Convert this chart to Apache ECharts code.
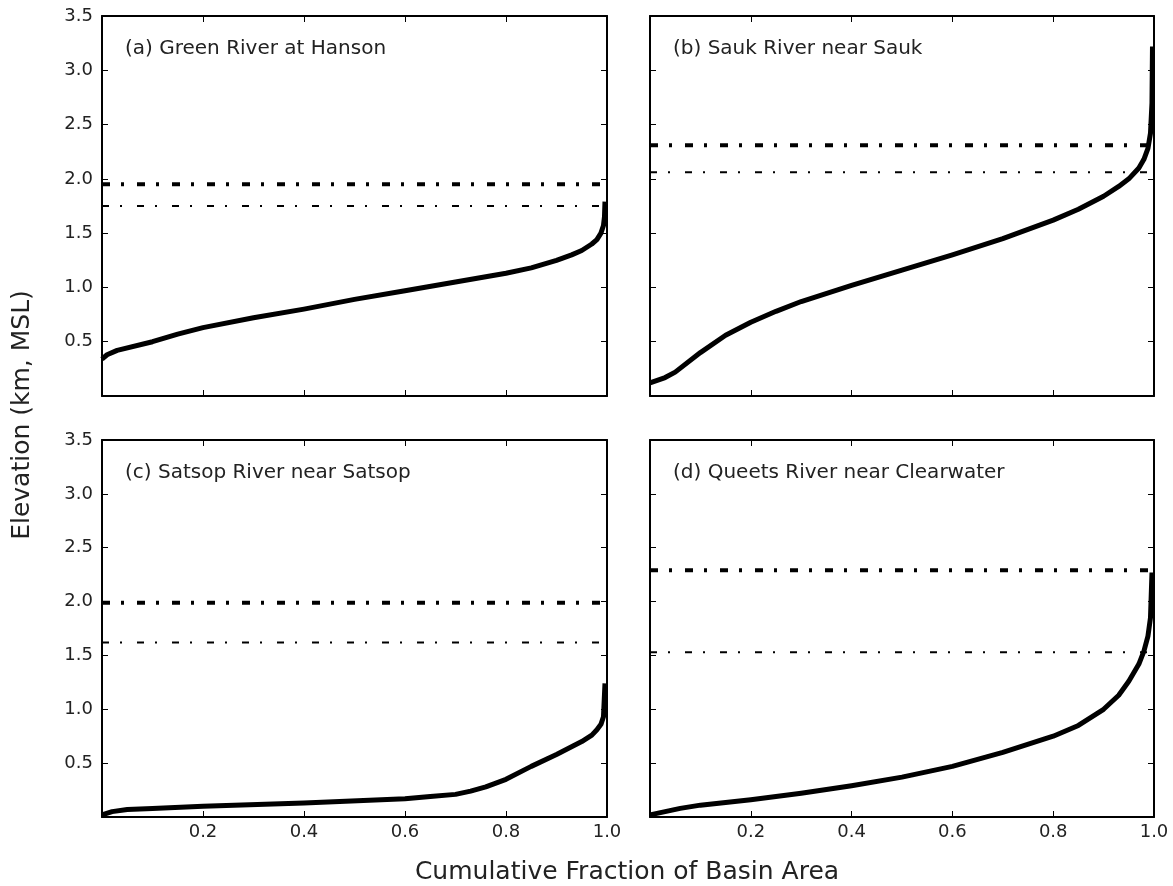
<!DOCTYPE html>
<html>
<head>
<meta charset="utf-8">
<script src="https://cdn.jsdelivr.net/npm/echarts@6/dist/echarts.min.js"></script>
<style>
  html, body { margin: 0; padding: 0; background: #fff; }
  #chart { width: 1173px; height: 886px; }
</style>
</head>
<body>
<div id="chart"></div>
<script>
// panel titles
const panelTitles = [
  "(a) Green River at Hanson",
  "(b) Sauk River near Sauk",
  "(c) Satsop River near Satsop",
  "(d) Queets River near Clearwater"
];

// hypsometric curves: cumulative fraction vs elevation (km)
const fracA = [0, 0.01, 0.03, 0.1, 0.15, 0.2, 0.3, 0.4, 0.5, 0.6, 0.7, 0.8, 0.85, 0.9, 0.93, 0.95, 0.97, 0.98, 0.988, 0.993, 0.995, 0.996];
const elevA = [0.34, 0.38, 0.42, 0.50, 0.57, 0.63, 0.72, 0.80, 0.89, 0.97, 1.05, 1.13, 1.18, 1.25, 1.30, 1.34, 1.40, 1.44, 1.50, 1.57, 1.65, 1.79];

const fracB = [0, 0.03, 0.05, 0.1, 0.15, 0.2, 0.25, 0.3, 0.4, 0.5, 0.6, 0.7, 0.8, 0.85, 0.9, 0.93, 0.95, 0.97, 0.98, 0.988, 0.993, 0.996, 0.997];
const elevB = [0.12, 0.17, 0.22, 0.40, 0.56, 0.68, 0.78, 0.87, 1.02, 1.16, 1.30, 1.45, 1.62, 1.72, 1.84, 1.93, 2.00, 2.10, 2.18, 2.28, 2.42, 2.70, 3.22];

const fracC = [0, 0.02, 0.05, 0.1, 0.2, 0.4, 0.6, 0.65, 0.7, 0.73, 0.76, 0.8, 0.85, 0.9, 0.95, 0.97, 0.98, 0.988, 0.993, 0.996];
const elevC = [0.02, 0.05, 0.07, 0.08, 0.10, 0.13, 0.17, 0.19, 0.21, 0.24, 0.28, 0.35, 0.47, 0.58, 0.70, 0.76, 0.81, 0.86, 0.93, 1.24];

const fracD = [0, 0.03, 0.06, 0.1, 0.2, 0.3, 0.4, 0.5, 0.6, 0.7, 0.8, 0.85, 0.9, 0.93, 0.95, 0.97, 0.98, 0.988, 0.993, 0.996];
const elevD = [0.02, 0.05, 0.08, 0.11, 0.16, 0.22, 0.29, 0.37, 0.47, 0.60, 0.75, 0.85, 1.00, 1.13, 1.26, 1.42, 1.54, 1.68, 1.85, 2.27];

// horizontal reference levels (km): thick and thin dash-dot lines
const thickLevels = [1.95, 2.31, 1.99, 2.29];
const thinLevels = [1.75, 2.06, 1.62, 1.53];

const curves = [[fracA, elevA], [fracB, elevB], [fracC, elevC], [fracD, elevD]];

const grids = [
  { left: 102, top: 16, width: 505, height: 380 },
  { left: 650, top: 16, width: 504, height: 380 },
  { left: 102, top: 440, width: 505, height: 377 },
  { left: 650, top: 440, width: 504, height: 377 }
];

const font = "DejaVu Sans";
const fmt = v => v.toFixed(1);

const xAxis = [], yAxis = [], series = [], graphic = [];

grids.forEach( ( g, i ) => {
  const isBottom = i >= 2, isLeft = i % 2 === 0;
  const tick = { show: true, inside: true, length: 6, lineStyle: { color: "#000", width: 1 } };
  // main axes
  xAxis.push( {
    gridIndex: i, type: "value", min: 0, max: 1, interval: 0.2, position: "bottom",
    axisLine: { show: true, lineStyle: { color: "#000", width: 2 } },
    axisTick: tick, splitLine: { show: false },
    axisLabel: { show: isBottom, showMinLabel: false, formatter: fmt, color: "#222", fontFamily: font, fontSize: 18, margin: 6 }
  } );
  yAxis.push( {
    gridIndex: i, type: "value", min: 0, max: 3.5, interval: 0.5, position: "left",
    axisLine: { show: true, lineStyle: { color: "#000", width: 2 } },
    axisTick: tick, splitLine: { show: false },
    axisLabel: { show: isLeft, showMinLabel: false, formatter: fmt, color: "#222", fontFamily: font, fontSize: 18, margin: 9 }
  } );
  // mirrored axes (top and right) for ticks
  xAxis.push( {
    gridIndex: i, type: "value", min: 0, max: 1, interval: 0.2, position: "top",
    axisLine: { show: true, onZero: false, lineStyle: { color: "#000", width: 2 } },
    axisTick: tick, splitLine: { show: false }, axisLabel: { show: false }
  } );
  yAxis.push( {
    gridIndex: i, type: "value", min: 0, max: 3.5, interval: 0.5, position: "right",
    axisLine: { show: true, onZero: false, lineStyle: { color: "#000", width: 2 } },
    axisTick: tick, splitLine: { show: false }, axisLabel: { show: false }
  } );

  const xi = i * 2, yi = i * 2;
  const [fx, ey] = curves[i];
  series.push( {
    type: "line", xAxisIndex: xi, yAxisIndex: yi, symbol: "none",
    smooth: false, clip: false,
    lineStyle: { color: "#000", width: 5, join: "round", cap: "butt" },
    data: fx.map( ( f, k ) => [f, ey[k]] ), z: 3
  } );
  series.push( {
    type: "line", xAxisIndex: xi, yAxisIndex: yi, symbol: "none", silent: true,
    lineStyle: { color: "#000", width: 4, type: [8, 11, 3, 13], cap: "butt" },
    data: [[0, thickLevels[i]], [1, thickLevels[i]]], z: 2
  } );
  series.push( {
    type: "line", xAxisIndex: xi, yAxisIndex: yi, symbol: "none", silent: true,
    lineStyle: { color: "#000", width: 2, type: [7, 11, 2, 15], cap: "butt" },
    data: [[0, thinLevels[i]], [1, thinLevels[i]]], z: 2
  } );

  graphic.push( {
    type: "text", x: g.left + 23, y: g.top + 33,
    style: { text: panelTitles[i], font: "20px " + font, fill: "#222", verticalAlign: "middle" }
  } );
} );

graphic.push( {
  type: "text", x: 22, y: 415, rotation: Math.PI / 2,
  style: { text: "Elevation (km, MSL)", font: "25px " + font, fill: "#222", align: "center", verticalAlign: "middle" }
} );
graphic.push( {
  type: "text", x: 627, y: 872,
  style: { text: "Cumulative Fraction of Basin Area", font: "25px " + font, fill: "#222", align: "center", verticalAlign: "middle" }
} );

const chart = echarts.init( document.getElementById( "chart" ), null, { renderer: "canvas" } );
chart.setOption( {
  animation: false,
  backgroundColor: "#fff",
  grid: grids,
  xAxis, yAxis, series, graphic
} );
</script>
</body>
</html>
